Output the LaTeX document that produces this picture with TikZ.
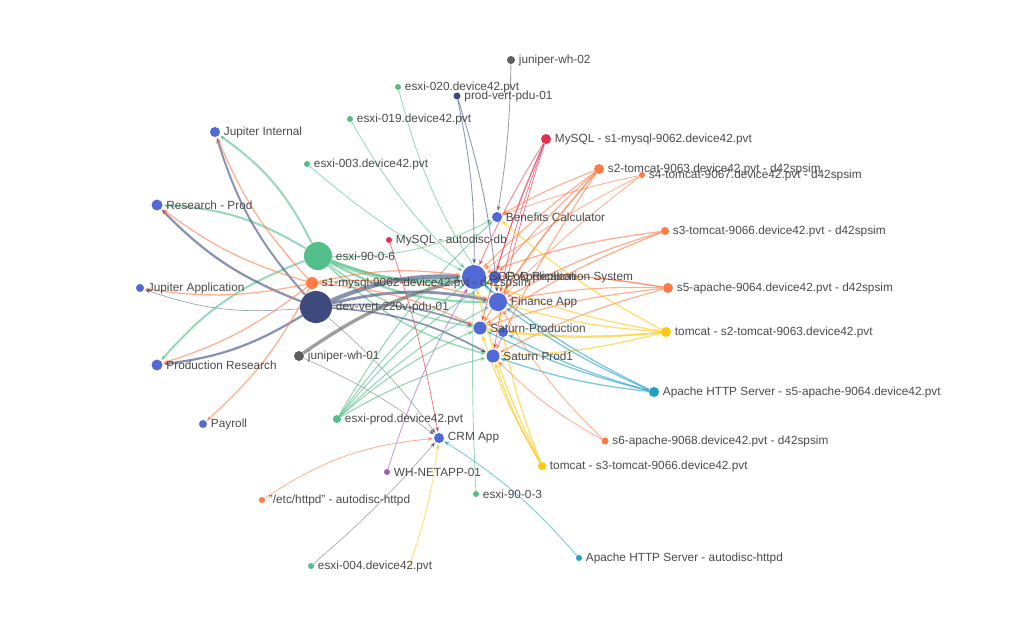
\documentclass[tikz,border=0pt]{standalone}
\usepackage{fontspec}
\setmainfont{Liberation Sans}
\usetikzlibrary{arrows.meta,backgrounds}
\definecolor{Txt}{HTML}{4A4A4A}
\definecolor{AppBlue}{HTML}{5069D6}
\definecolor{Navy}{HTML}{3C4A7E}
\definecolor{EsxGreen}{HTML}{52BE88}
\definecolor{Orng}{HTML}{FF7A45}
\definecolor{Rd}{HTML}{E0314F}
\definecolor{Ylw}{HTML}{FFC70F}
\definecolor{Teal}{HTML}{1FA0C8}
\definecolor{Gry}{HTML}{5E5E5E}
\definecolor{Purp}{HTML}{A25BB7}

\begin{document}
\begin{tikzpicture}[
  x=0.025cm,y=-0.025cm,
  dot/.style={circle,inner sep=0pt,minimum size=#1*0.5mm},
  lbl/.style={font=\fontsize{8.4}{9}\selectfont,text=Txt,inner sep=2.4pt},
  app/.style={dot=#1,fill=AppBlue},
  esx/.style={dot=#1,fill=EsxGreen},
  svc/.style={dot=#1,fill=Orng},
  link/.style={-{Stealth[length=4pt,width=3pt]},line width=0.6pt,draw opacity=0.6,shorten >=0.5pt}
]
\useasboundingbox (0,0) rectangle (1024,620);

% nodes
\node[dot=4,fill=Gry,label={[lbl]right:juniper-wh-02}] (jw2) at (511,60) {};
\node[esx=3,label={[lbl]right:esxi-020.device42.pvt}] (e020) at (398,87) {};
\node[dot=3.5,fill=Navy,label={[lbl]right:prod-vert-pdu-01}] (pvp) at (457,96) {};
\node[esx=3,label={[lbl]right:esxi-019.device42.pvt}] (e019) at (350,119) {};
\node[dot=5,fill=Rd,label={[lbl]right:MySQL - s1-mysql-9062.device42.pvt}] (mys1) at (546,139) {};
\node[app=5,label={[lbl]right:Jupiter Internal}] (ji) at (215,132) {};
\node[esx=3,label={[lbl]right:esxi-003.device42.pvt}] (e003) at (307,164) {};
\node[svc=5,label={[lbl]right:s2-tomcat-9063.device42.pvt - d42spsim}] (s2t) at (599,169) {};
\node[svc=3,label={[lbl]right:s4-tomcat-9067.device42.pvt - d42spsim}] (s4t) at (642,175) {};
\node[app=5.5,label={[lbl]right:Research - Prod}] (rp) at (157,205) {};
\node[app=5,label={[lbl]right:Benefits Calculator}] (bc) at (497,217) {};
\node[svc=4,label={[lbl]right:s3-tomcat-9066.device42.pvt - d42spsim}] (s3t) at (665,231) {};
\node[dot=3,fill=Rd,label={[lbl]right:MySQL - autodisc-db}] (mad) at (389,240) {};
\node[esx=14,label={[lbl]right:esxi-90-0-6}] (e906) at (318,256) {};
\node[app=6,label={[lbl]right:CoD Replication System}] (cod) at (495,277) {};
\node[app=12,label={[lbl]right:SOP Application}] (sop) at (474,277) {};
\node[svc=6,label={[lbl]right:s1-mysql-9062-device42.pvt - d42spsim}] (s1m) at (312,283) {};
\node[app=4,label={[lbl]right:Jupiter Application}] (ja) at (140,288) {};
\node[svc=5,label={[lbl]right:s5-apache-9064.device42.pvt - d42spsim}] (s5a) at (668,288) {};
\node[app=9,label={[lbl]right:Finance App}] (fin) at (498,302) {};
\node[dot=16,fill=Navy,label={[lbl]right:dev-vert-220v-pdu-01}] (dv) at (316,307) {};
\node[app=5] (sat2) at (503,332) {};
\node[app=6.5,label={[lbl]right:Saturn-Production}] (satp) at (480,328) {};
\node[dot=5,fill=Ylw,label={[lbl]right:tomcat - s2-tomcat-9063.device42.pvt}] (tc2) at (666,332) {};
\node[dot=5,fill=Gry,label={[lbl]right:juniper-wh-01}] (jw1) at (299,356) {};
\node[app=6.5,label={[lbl]right:Saturn Prod1}] (sp1) at (493,356) {};
\node[app=5.5,label={[lbl]right:Production Research}] (pr) at (157,365) {};
\node[dot=5,fill=Teal,label={[lbl]right:Apache HTTP Server - s5-apache-9064.device42.pvt}] (ah5) at (654,392) {};
\node[esx=4,label={[lbl]right:esxi-prod.device42.pvt}] (ep) at (337,419) {};
\node[app=4,label={[lbl]right:Payroll}] (pay) at (203,424) {};
\node[app=5,label={[lbl]right:CRM App}] (crm) at (439,438) {};
\node[svc=3.5,label={[lbl]right:s6-apache-9068.device42.pvt - d42spsim}] (s6a) at (605,441) {};
\node[dot=4,fill=Ylw,label={[lbl]right:tomcat - s3-tomcat-9066.device42.pvt}] (tc3) at (542,466) {};
\node[dot=3,fill=Purp,label={[lbl]right:WH-NETAPP-01}] (wh) at (387,472) {};
\node[esx=3,label={[lbl]right:esxi-90-0-3}] (e903) at (476,494) {};
\node[svc=3,label={[lbl]right:"/etc/httpd" - autodisc-httpd}] (httpd) at (262,500) {};
\node[dot=3,fill=Teal,label={[lbl]right:Apache HTTP Server - autodisc-httpd}] (aha) at (579,558) {};
\node[esx=3,label={[lbl]right:esxi-004.device42.pvt}] (e004) at (311,566) {};
\coordinate (ybot) at (407,572);

% links
\begin{scope}[on background layer]
\foreach \t/\w in {ji/1.4,rp/1.4,pr/1.4,sop/3,fin/1.6,satp/1,sp1/1,bc/0.6,cod/1}
  \draw[link,EsxGreen,line width=\w pt] (e906) to[bend right=14] (\t);
\foreach \t/\w in {ji/1.4,rp/1.6,pr/1.6,ja/0.4,sop/3,fin/2,satp/1.2,sp1/1.2}
  \draw[link,Navy,line width=\w pt] (dv) to[bend left=12] (\t);
\foreach \t in {ji,rp,ja,pr,pay,sop,fin,satp}
  \draw[link,Orng,line width=0.9pt] (s1m) to[bend left=10] (\t);
\draw[link,Gry,line width=2.4pt] (jw1) to[bend left=10] (sop);
\draw[link,Gry,line width=0.4pt] (jw1) to[bend left=6] (crm);
\draw[link,Gry,line width=0.4pt] (dv) to[bend left=6] (crm);
\draw[link,Gry] (jw2) to[bend left=4] (bc);
\foreach \t in {sop,fin}
  \draw[link,Navy] (pvp) to[bend left=6] (\t);
\draw[link,EsxGreen] (e020) to[bend right=10] (fin);
\draw[link,EsxGreen] (e019) to[bend right=8] (sop);
\draw[link,EsxGreen] (e003) to[bend right=6] (sop);
\foreach \t in {sop,cod,fin,satp,sp1}
  \draw[link,Rd] (mys1) to[bend right=4] (\t);
\foreach \t in {sop,cod,fin,satp,sp1,bc}
  \draw[link,Orng,line width=0.8pt] (s2t) to[bend right=4] (\t);
\foreach \t in {bc,sop,fin}
  \draw[link,Orng] (s4t) to[bend right=4] (\t);
\foreach \t in {sop,fin,satp}
  \draw[link,Orng,line width=0.9pt] (s3t) to[bend right=6] (\t);
\foreach \t in {sop,cod,fin,satp,sp1}
  \draw[link,Orng,line width=0.8pt] (s5a) to[bend right=6] (\t);
\foreach \t in {fin,satp,sp1,sop,bc,sat2}
  \draw[link,Ylw,line width=0.9pt] (tc2) to[bend left=6] (\t);
\foreach \t in {fin,satp,sp1,sop,sat2}
  \draw[link,Teal,line width=0.9pt] (ah5) to[bend left=6] (\t);
\foreach \t in {sp1,fin}
  \draw[link,Orng] (s6a) to[bend left=8] (\t);
\foreach \t in {sp1,fin,satp,sop}
  \draw[link,Ylw,line width=0.9pt] (tc3) to[bend left=6] (\t);
\foreach \t in {sop,fin,satp,sp1,bc,cod}
  \draw[link,EsxGreen,line width=0.8pt] (ep) to[bend left=8] (\t);
\draw[link,Rd] (mad) to[bend left=4] (crm);
\draw[link,Purp] (wh) to[bend left=6] (sop);
\draw[link,EsxGreen] (e903) to[bend left=2] (sop);
\draw[link,Orng] (httpd) to[bend left=14] (crm);
\draw[link,Teal] (aha) to[bend right=8] (crm);
\draw[link,Gry,line width=0.4pt] (e004) to[bend right=4] (crm);
\draw[link,Ylw] (ybot) to[bend right=6] (crm);
\end{scope}
\end{tikzpicture}
\end{document}
